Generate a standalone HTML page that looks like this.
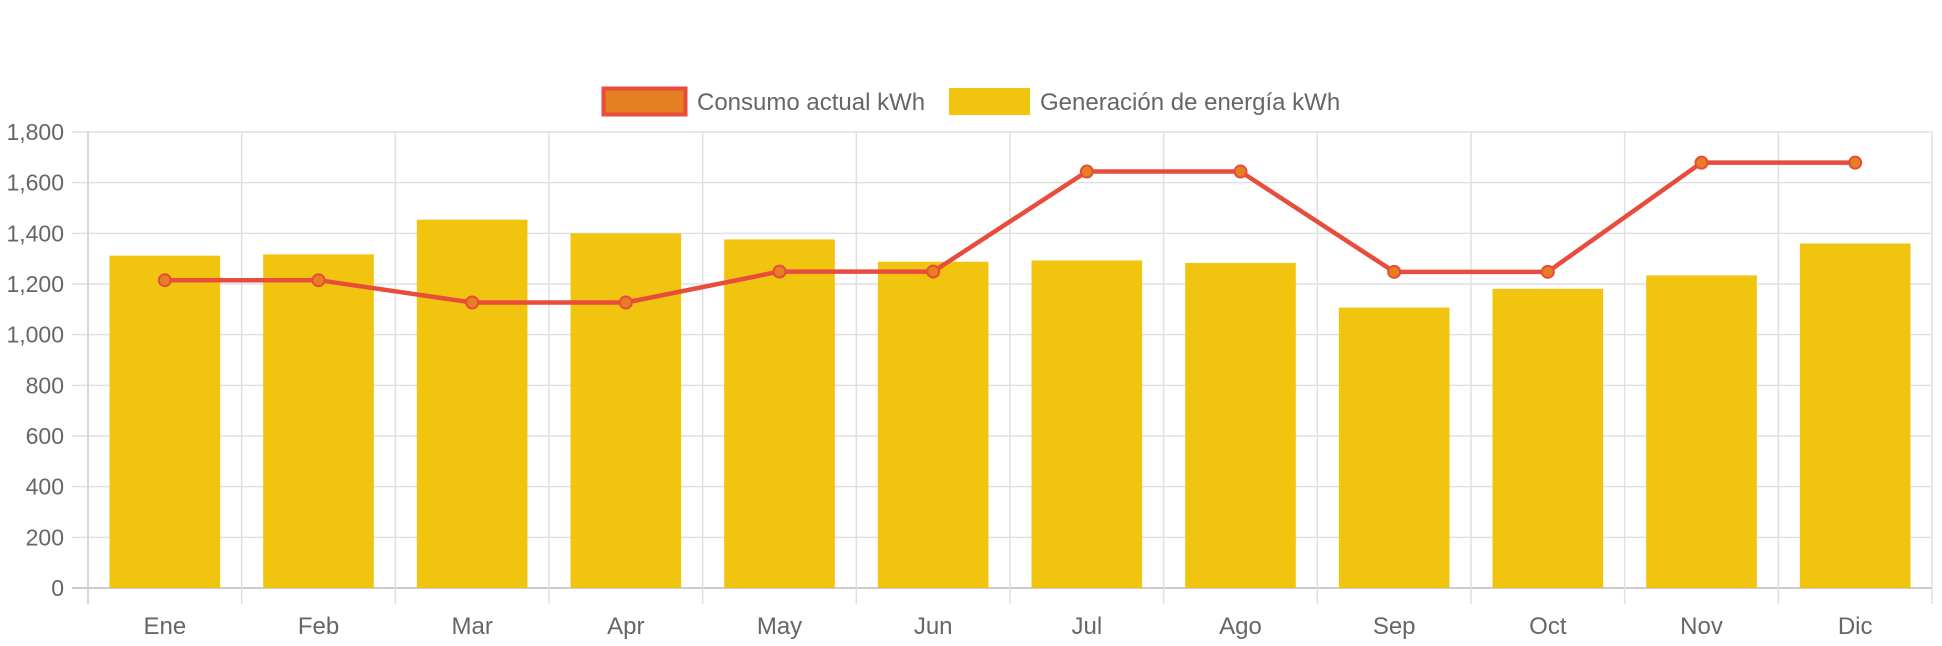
<!DOCTYPE html>
<html><head><meta charset="utf-8"><style>
html,body{margin:0;padding:0;background:#fff;overflow:hidden;}
svg{display:block;}
svg text{font-family:"Liberation Sans",Helvetica,Arial,sans-serif;fill:#666;}
</style></head><body>
<svg id="chart" width="1942" height="646" xmlns="http://www.w3.org/2000/svg">
<g id="legend">
  <g>
    <rect x="603.5" y="88.5" width="82" height="26" fill="#e67e22" stroke="#e74c3c" stroke-width="4"/>
    <text x="697" y="110" font-size="24">Consumo actual kWh</text>
  </g>
  <g>
    <rect x="949" y="88" width="81" height="27" fill="#f1c40f"/>
    <text x="1040" y="110" font-size="24">Generación de energía kWh</text>
  </g>
</g>
<g id="grid"></g>
<g id="bars"></g>
<g id="line"></g>
<g id="labels"></g>
</svg>
<script>
const categories = ["Ene","Feb","Mar","Apr","May","Jun","Jul","Ago","Sep","Oct","Nov","Dic"];
const generacion = [1312,1317,1454,1400,1376,1288,1293,1283,1107,1181,1234,1360];
const consumo = [1215,1215,1127,1127,1249,1249,1644,1644,1248,1248,1679,1679];
const yTicks = [0,200,400,600,800,1000,1200,1400,1600,1800];
const yTickLabels = ["0","200","400","600","800","1,000","1,200","1,400","1,600","1,800"];

const NS="http://www.w3.org/2000/svg";
const L=88,R=1932,T=132,B=588,YMAX=1800;
const bw=(R-L)/categories.length;
function y(v){return B-(v/YMAX)*(B-T);}
function xc(i){return L+bw*(i+0.5);}
function mk(tag,attrs,parent){const e=document.createElementNS(NS,tag);for(const k in attrs)e.setAttribute(k,attrs[k]);parent.appendChild(e);return e;}
const grid=document.getElementById('grid'),bars=document.getElementById('bars'),line=document.getElementById('line'),labels=document.getElementById('labels');

yTicks.forEach((t,i)=>{
  const g=mk('line',{x1:72,x2:R,y1:y(t),y2:y(t),stroke:t===0?'#ccc':'#e0e0e0','stroke-width':t===0?2:1.5},grid);
  
  
  const tx=mk('text',{x:64,y:y(t)+8,'font-size':23,'text-anchor':'end'},labels);
  tx.textContent=yTickLabels[i];
  
  
});
for(let i=0;i<=categories.length;i++){
  const x=L+bw*i;
  const g=mk('line',{x1:x,x2:x,y1:T,y2:604,stroke:i===0?'#ccc':'#e0e0e0','stroke-width':1.5},grid);
  
  
}
categories.forEach((c,i)=>{
  const w=bw*0.72;
  const r=mk('rect',{x:xc(i)-w/2,y:y(generacion[i]),width:w,height:B-y(generacion[i]),fill:'#f1c40f'},bars);
  
  
  const tx=mk('text',{x:xc(i),y:634,'font-size':24,'text-anchor':'middle'},labels);
  tx.textContent=c;
  
  
});
const pts=consumo.map((v,i)=>xc(i)+','+y(v)).join(' ');
const pl=mk('polyline',{points:pts,fill:'none',stroke:'#e74c3c','stroke-width':4.5,'stroke-linejoin':'round'},line);


consumo.forEach((v,i)=>{
  const c=mk('circle',{cx:xc(i),cy:y(v),r:6,fill:'#e67e22',stroke:'#e74c3c','stroke-width':2},line);
  
  
});
</script>
</body></html>
